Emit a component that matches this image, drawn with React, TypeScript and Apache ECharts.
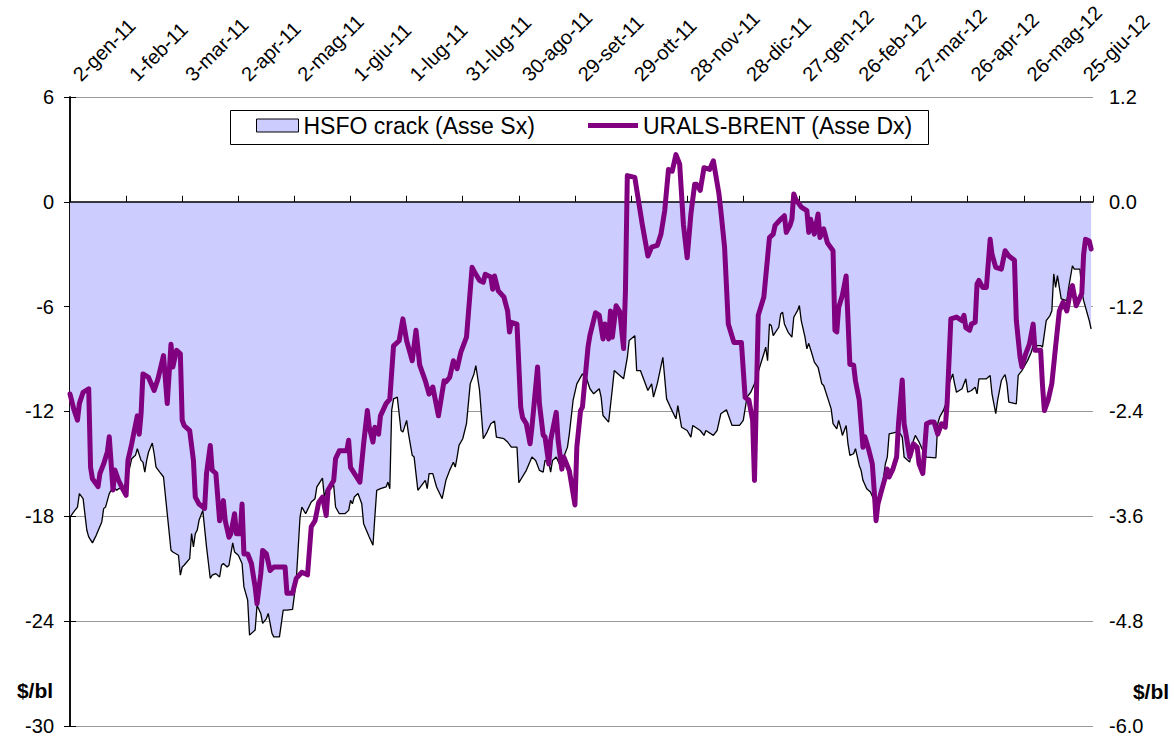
import React, { useEffect, useRef } from 'react';
import * as echarts from 'echarts';

// Days counted from 2-gen-11
const hsfoDays = [0,2,4,5,7,9,10,12,14,17,18,19,21,23,25,26,28,29,31,33,35,36,38,39,40,41,42,44,45,46,48,50,52,54,55,58,59,60,61,64,65,66,67,68,69,71,73,75,76,78,80,81,82,84,85,87,88,90,92,93,95,96,99,100,102,103,105,106,108,109,112,114,116,119,121,123,124,126,129,131,132,135,136,137,141,142,144,147,149,150,151,152,154,156,157,160,162,163,164,166,169,170,171,172,173,175,177,178,180,181,183,184,186,188,190,191,192,194,196,199,201,203,205,206,207,208,210,212,214,216,217,219,221,223,225,227,228,232,234,236,239,240,244,247,249,251,253,254,256,257,258,260,262,264,266,267,269,271,274,276,278,280,283,284,285,288,290,291,294,296,298,299,302,303,305,307,309,311,312,314,317,319,321,324,325,327,330,332,333,337,339,340,344,346,348,351,354,358,360,362,364,366,371,372,373,374,375,376,379,380,381,382,384,386,387,389,390,391,393,394,395,397,398,400,402,403,405,407,408,410,411,412,413,415,416,417,419,420,422,423,424,426,428,430,432,434,436,437,438,442,444,445,446,447,449,451,452,454,456,458,463,464,465,467,469,470,472,473,474,477,479,480,482,484,485,486,490,492,493,495,496,498,499,500,501,502,506,507,509,510,512,514,515,519,520,522,524,525,526,527,528,529,530,533,534,536,537,540,541,542,544,545,546];
const hsfoValues = [-18.04,-17.75,-17.47,-16.70,-16.99,-18.80,-19.18,-19.52,-19.09,-18.32,-17.56,-17.47,-16.70,-16.32,-16.51,-16.42,-16.42,-16.32,-15.66,-14.70,-14.51,-14.13,-14.80,-14.90,-15.47,-14.80,-14.32,-13.81,-14.42,-15.18,-15.47,-15.75,-17.85,-19.94,-20.04,-20.23,-21.37,-20.90,-20.80,-20.42,-18.99,-19.75,-18.99,-18.80,-18.23,-17.66,-19.75,-21.56,-21.37,-21.28,-21.47,-20.80,-20.70,-20.90,-20.80,-19.52,-20.04,-20.23,-20.70,-22.04,-22.80,-24.80,-24.51,-23.09,-23.56,-24.13,-23.85,-23.56,-24.70,-24.90,-24.90,-23.37,-23.37,-23.33,-21.66,-18.04,-17.47,-17.85,-17.18,-16.99,-16.32,-15.81,-16.90,-16.51,-16.23,-17.47,-17.85,-17.85,-17.66,-17.09,-17.28,-16.90,-16.70,-17.28,-18.42,-19.18,-19.66,-18.04,-16.51,-16.42,-16.32,-16.04,-16.42,-11.94,-11.28,-11.18,-13.09,-13.18,-12.51,-13.28,-14.51,-14.61,-16.51,-16.23,-15.94,-16.42,-15.56,-15.56,-16.32,-16.99,-15.94,-15.37,-14.90,-15.18,-14.61,-13.94,-13.56,-12.70,-10.42,-9.85,-9.37,-10.80,-13.56,-13.18,-12.70,-12.55,-13.47,-13.56,-13.75,-14.04,-14.04,-16.08,-15.37,-14.61,-14.80,-15.37,-15.47,-14.80,-14.90,-15.47,-14.80,-14.61,-15.09,-14.61,-14.04,-13.28,-11.37,-10.42,-9.85,-10.04,-10.70,-10.99,-10.70,-11.18,-12.23,-12.61,-10.70,-9.66,-9.94,-10.13,-8.90,-7.94,-7.66,-9.66,-9.66,-10.23,-10.80,-10.42,-11.18,-10.42,-8.90,-11.28,-11.75,-12.42,-11.66,-12.90,-13.09,-13.47,-12.80,-13.09,-13.37,-13.09,-13.37,-13.09,-12.13,-11.90,-12.80,-12.80,-12.51,-11.18,-10.90,-10.42,-8.70,-8.32,-9.09,-6.99,-7.09,-7.66,-7.18,-6.42,-6.32,-6.99,-7.47,-7.75,-6.61,-6.23,-5.94,-6.80,-7.75,-8.42,-8.10,-8.80,-9.18,-9.47,-10.42,-10.51,-11.18,-11.85,-12.70,-12.99,-12.51,-12.90,-13.37,-12.80,-13.85,-14.51,-14.42,-14.13,-15.09,-15.37,-15.94,-16.42,-16.61,-17.09,-17.30,-16.51,-14.99,-14.61,-13.28,-13.18,-13.28,-13.47,-14.61,-14.70,-14.90,-13.66,-13.37,-13.75,-14.23,-14.61,-14.65,-12.70,-12.32,-11.94,-11.37,-10.42,-9.85,-10.42,-10.90,-10.70,-10.13,-10.90,-10.80,-10.61,-10.99,-10.13,-10.13,-9.94,-10.99,-12.13,-11.37,-10.23,-10.04,-9.89,-10.42,-11.47,-11.56,-9.94,-9.66,-9.47,-9.09,-8.61,-8.23,-8.23,-8.32,-6.80,-6.51,-6.23,-4.13,-4.90,-4.23,-4.90,-5.56,-5.66,-4.90,-3.66,-3.85,-3.85,-5.09,-5.66,-6.42,-6.80,-7.28];

const uralsDays = [0,2,4,5,7,10,11,12,15,16,18,20,21,23,24,26,28,30,31,33,34,36,37,38,39,42,45,47,50,52,54,55,57,59,60,61,64,66,67,69,72,73,75,76,78,80,82,83,85,86,88,89,91,92,93,95,97,99,100,102,103,105,107,109,115,116,119,121,124,127,129,131,133,135,137,138,141,142,144,148,149,150,155,157,159,160,162,163,165,166,169,171,173,176,178,180,183,185,187,190,192,194,197,200,201,203,205,207,209,212,215,217,219,221,222,225,226,227,229,232,234,235,236,239,241,242,244,246,247,250,251,253,254,256,257,260,261,263,264,267,270,271,273,274,277,278,281,283,285,286,288,289,290,292,294,296,297,298,302,306,309,311,314,316,318,320,322,324,326,328,330,332,334,335,337,339,342,344,347,348,350,352,355,359,361,363,365,366,368,371,374,376,377,380,382,383,385,386,387,388,391,394,395,396,398,400,401,403,405,408,409,410,411,413,415,417,419,420,422,424,425,427,429,430,431,432,434,436,437,438,440,442,443,445,446,447,449,451,453,454,456,458,460,462,464,466,468,469,471,474,477,478,479,481,482,484,485,486,488,490,492,493,495,498,500,502,505,506,508,509,511,513,515,516,519,520,521,523,525,527,529,531,533,535,536,538,541,542,543,545,546];
const uralsValues = [-2.20,-2.37,-2.50,-2.31,-2.18,-2.14,-3.04,-3.17,-3.26,-3.11,-3.00,-2.86,-2.69,-3.30,-3.07,-3.19,-3.28,-3.36,-2.96,-2.77,-2.66,-2.45,-2.66,-2.43,-1.97,-2.01,-2.16,-2.03,-1.76,-2.31,-1.63,-1.89,-1.70,-1.74,-2.50,-2.56,-2.62,-2.96,-3.38,-3.46,-3.51,-3.11,-2.79,-3.07,-3.11,-3.65,-3.42,-3.65,-3.84,-3.80,-3.57,-3.80,-3.80,-3.46,-4.03,-4.03,-4.14,-4.41,-4.60,-4.26,-3.99,-4.03,-4.22,-4.18,-4.18,-4.48,-4.48,-4.31,-4.24,-4.27,-3.72,-3.65,-3.44,-3.38,-3.59,-3.30,-3.19,-2.94,-2.85,-2.85,-2.73,-3.04,-3.21,-2.77,-2.39,-2.58,-2.75,-2.58,-2.66,-2.45,-2.31,-2.26,-1.65,-1.59,-1.34,-1.59,-1.82,-1.47,-1.87,-2.05,-2.20,-2.12,-2.45,-2.05,-2.06,-2.01,-1.82,-1.91,-1.72,-1.55,-0.75,-0.83,-0.90,-0.92,-0.83,-0.86,-1.00,-0.85,-1.02,-1.09,-1.25,-1.49,-1.38,-1.40,-2.35,-2.47,-2.54,-2.77,-2.58,-1.89,-2.31,-2.67,-2.69,-3.00,-2.73,-2.41,-2.73,-3.06,-2.92,-3.08,-3.47,-2.81,-2.39,-2.35,-1.66,-1.53,-1.27,-1.30,-1.57,-1.40,-1.57,-1.25,-1.55,-1.19,-1.26,-1.68,-1.02,0.30,0.28,-0.26,-0.62,-0.52,-0.50,-0.37,-0.10,0.37,0.35,0.54,0.43,-0.26,-0.64,-0.14,0.20,0.20,0.13,0.39,0.37,0.47,0.09,-0.10,-0.52,-1.40,-1.61,-1.61,-2.24,-2.27,-2.50,-3.19,-1.30,-1.09,-0.41,-0.37,-0.27,-0.20,-0.16,-0.35,-0.27,-0.20,0.09,0.03,-0.06,-0.10,-0.35,-0.20,-0.37,-0.14,-0.41,-0.31,-0.47,-0.56,-1.47,-1.49,-1.21,-1.07,-0.85,-1.86,-1.87,-2.05,-2.27,-2.81,-2.69,-2.83,-3.00,-3.30,-3.65,-3.46,-3.30,-3.15,-3.06,-3.15,-3.06,-2.92,-2.54,-2.04,-2.54,-2.66,-2.92,-2.77,-2.81,-3.00,-3.11,-2.54,-2.52,-2.52,-2.66,-2.54,-2.58,-2.31,-1.34,-1.32,-1.36,-1.30,-1.44,-1.47,-1.40,-1.38,-0.94,-0.90,-0.98,-0.98,-0.43,-0.60,-0.75,-0.77,-0.56,-0.62,-0.67,-1.36,-1.78,-1.89,-1.74,-1.63,-1.40,-1.70,-1.70,-2.10,-2.39,-2.27,-2.08,-1.66,-1.25,-1.15,-1.25,-1.02,-0.96,-1.19,-1.05,-0.60,-0.43,-0.45,-0.54];

const monthNames = ['gen','feb','mar','apr','mag','giu','lug','ago','set','ott','nov','dic'];
const startDateUTC = Date.UTC(2011, 0, 2);
const dayTickInterval = 30;
const dayAxisMax = 547;

const FONT = '"Liberation Sans", Arial, Helvetica, sans-serif';

function formatDay(v: number): string {
  const r = Math.round(v);
  if (r % dayTickInterval !== 0) return '';
  const d = new Date(startDateUTC + r * 86400000);
  return `${d.getUTCDate()}-${monthNames[d.getUTCMonth()]}-${String(d.getUTCFullYear()).slice(2)}`;
}

export default function App() {
  const ref = useRef<HTMLDivElement>(null);

  useEffect(() => {
    if (!ref.current) return;
    const chart = echarts.init(ref.current, undefined, { renderer: 'svg' });
    const hsfoData = hsfoDays.map((d, i) => [d, hsfoValues[i]]);
    const uralsData = uralsDays.map((d, i) => [d, uralsValues[i]]);

    chart.setOption({
      animation: false,
      backgroundColor: '#ffffff',
      textStyle: { fontFamily: FONT },
      grid: { left: 70, right: 81, top: 96, bottom: 12 },
      xAxis: [
        {
          type: 'value',
          position: 'top',
          min: 0,
          max: dayAxisMax,
          interval: dayTickInterval,
          axisLine: { show: false },
          axisTick: { show: false },
          splitLine: { show: false },
          axisLabel: {
            rotate: 45,
            margin: 13,
            padding: [0, 0, 0, 9],
            formatter: formatDay,
            fontSize: 20,
            color: '#000',
            fontFamily: FONT,
          },
        },
        {
          type: 'value',
          position: 'bottom',
          min: 0,
          max: dayAxisMax,
          interval: dayTickInterval,
          z: 4,
          axisLine: { show: true, onZero: true, lineStyle: { color: '#000', width: 1.5 } },
          axisTick: { show: true, inside: true, length: 6, lineStyle: { color: '#000', width: 1 } },
          axisLabel: { show: false },
          splitLine: { show: false },
        },
      ],
      yAxis: [
        {
          type: 'value',
          position: 'left',
          min: -30,
          max: 6,
          interval: 6,
          axisLine: { show: true, lineStyle: { color: '#000', width: 1.5 } },
          axisTick: { show: true, length: 6, lineStyle: { color: '#000', width: 1 } },
          axisLabel: { fontSize: 20, color: '#000', margin: 16, fontFamily: FONT },
          splitLine: { show: true, lineStyle: { color: '#999', width: 1 } },
        },
        {
          type: 'value',
          position: 'right',
          min: -6,
          max: 1.2,
          interval: 1.2,
          axisLine: { show: true, lineStyle: { color: '#000', width: 1.5 } },
          axisTick: { show: true, length: 6, lineStyle: { color: '#000', width: 1 } },
          axisLabel: {
            fontSize: 20,
            color: '#000',
            margin: 16,
            fontFamily: FONT,
            formatter: (v: number) => (Math.abs(v) < 1e-9 ? 0 : v).toFixed(1),
          },
          splitLine: { show: false },
        },
      ],
      legend: [
        {
          data: [{ name: 'HSFO crack (Asse Sx)' }],
          left: 256,
          top: 114,
          padding: 0,
          itemWidth: 42,
          itemHeight: 13,
          icon: 'rect',
          itemStyle: { color: '#ccccff', borderColor: '#000', borderWidth: 1 },
          textStyle: { fontSize: 23, color: '#000', fontFamily: FONT },
          selectedMode: false,
          z: 6,
        },
        {
          data: [{ name: 'URALS-BRENT (Asse Dx)' }],
          left: 588,
          top: 114,
          padding: 0,
          itemWidth: 50,
          itemHeight: 5,
          icon: 'rect',
          itemStyle: { color: '#800080', borderWidth: 0 },
          textStyle: { fontSize: 23, color: '#000', fontFamily: FONT },
          selectedMode: false,
          z: 6,
        },
      ],
      graphic: [
        {
          type: 'rect',
          z: 3,
          shape: { x: 230.5, y: 110.5, width: 698, height: 34 },
          style: { fill: '#fff', stroke: '#000', lineWidth: 1 },
        },
        {
          type: 'text',
          x: 35,
          y: 690,
          style: { text: '$/bl', font: `bold 21px ${FONT}`, fill: '#000', align: 'center', verticalAlign: 'middle' },
        },
        {
          type: 'text',
          x: 1151,
          y: 691,
          style: { text: '$/bl', font: `bold 21px ${FONT}`, fill: '#000', align: 'center', verticalAlign: 'middle' },
        },
      ],
      series: [
        {
          name: 'HSFO crack (Asse Sx)',
          type: 'line',
          xAxisIndex: 0,
          yAxisIndex: 0,
          data: hsfoData,
          symbol: 'none',
          showSymbol: false,
          lineStyle: { color: '#000', width: 1.3 },
          itemStyle: { color: '#ccccff' },
          areaStyle: { color: '#ccccff', opacity: 1 },
          z: 2,
        },
        {
          name: 'URALS-BRENT (Asse Dx)',
          type: 'line',
          xAxisIndex: 0,
          yAxisIndex: 1,
          data: uralsData,
          symbol: 'none',
          showSymbol: false,
          lineStyle: { color: '#800080', width: 5, join: 'round', cap: 'round' },
          itemStyle: { color: '#800080' },
          z: 5,
        },
      ],
    });

    return () => chart.dispose();
  }, []);

  return (
    <div
      ref={ref}
      style={{ position: 'fixed', left: 0, top: 0, width: 1174, height: 738, background: '#fff' }}
    />
  );
}
